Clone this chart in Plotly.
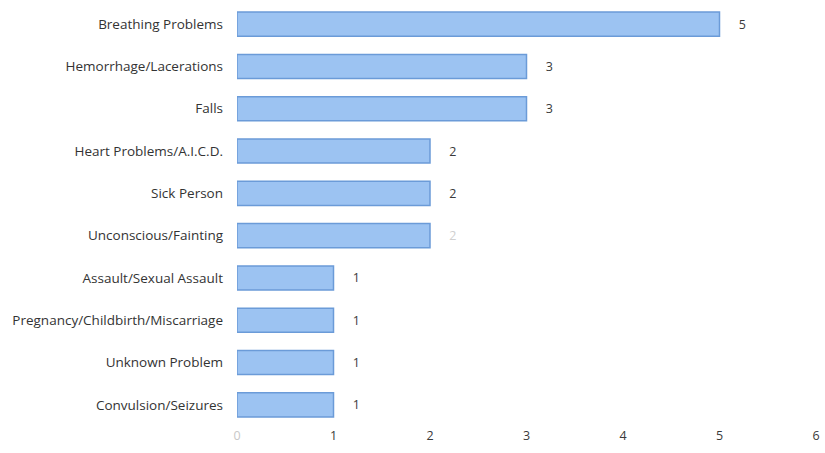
import plotly.graph_objects as go

categories = ["Breathing Problems", "Hemorrhage/Lacerations", "Falls",
              "Heart Problems/A.I.C.D.", "Sick Person", "Unconscious/Fainting",
              "Assault/Sexual Assault", "Pregnancy/Childbirth/Miscarriage",
              "Unknown Problem", "Convulsion/Seizures"]
values = [5, 3, 3, 2, 2, 2, 1, 1, 1, 1]
tick_vals = [0, 1, 2, 3, 4, 5, 6]
tick_labels = ["0", "1", "2", "3", "4", "5", "6"]

label_colors = ["#3a3a3a"] * len(values)
label_colors[5] = "#d0d0d0"

ticktext = ['<span style="color:#c8c8c8">%s</span>' % t if t == "0" else t for t in tick_labels]

fig = go.Figure(go.Bar(
    x=values, y=categories, orientation="h",
    marker=dict(color="#9cc3f2", line=dict(color="#6b9bd8", width=1.5)),
    width=0.57,
    text=values, texttemplate="     %{x}", textposition="outside",
    textfont=dict(color=label_colors, size=12.5, family="Open Sans"),
    cliponaxis=False,
))

fig.update_layout(
    width=825, height=453,
    margin=dict(l=237, r=9, t=3, b=27),
    paper_bgcolor="white", plot_bgcolor="white",
    showlegend=False,
    font=dict(family="Open Sans", size=12.5, color="#3a3a3a"),
)
fig.update_xaxes(range=[0, 6], tickvals=tick_vals, ticktext=ticktext,
                 showgrid=False, zeroline=False, showline=False, automargin=False,
                 tickfont=dict(size=12.5, color="#3a3a3a"))
fig.update_yaxes(autorange="reversed", showgrid=False, showline=False, automargin=False,
                 ticks="", ticklabelstandoff=13,
                 tickfont=dict(size=13.5, color="#333333"))

fig.write_html("out.html", config={"displayModeBar": False},
               post_script="document.body.style.margin='0';")
